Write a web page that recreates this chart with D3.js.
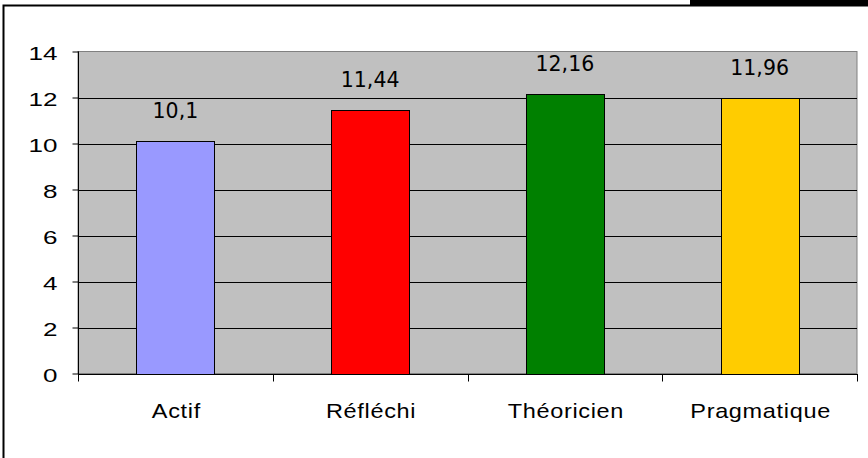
<!DOCTYPE html>
<html>
<head>
<meta charset="utf-8">
<script src="https://cdn.jsdelivr.net/npm/d3@7"></script>
<style>
  body { margin: 0; background: #fff; }
  svg { display: block; }
  .arial { font-family: "Liberation Sans", Arial, sans-serif; }
  .dejavu { font-family: "DejaVu Sans", Verdana, sans-serif; }
</style>
</head>
<body>
<div id="chart-area"></div>
<script>
// data
var categories = ["Actif", "Réfléchi", "Théoricien", "Pragmatique"];
var values = [10.1, 11.44, 12.16, 11.96];
var valueLabels = ["10,1", "11,44", "12,16", "11,96"];
var barColors = ["#9999FF", "#FF0000", "#008000", "#FFCC00"];
var yTicks = [0, 2, 4, 6, 8, 10, 12, 14];

var W = 868, H = 458;
var plot = {left: 78, right: 857, top: 51.5, bottom: 373.5};
// the original picture is stretched sideways, so its text is wider than normal
var yStretch = 1.4, xStretch = 1.12;

var svg = d3.select("#chart-area")
  .append("svg")
  .attr("width", W)
  .attr("height", H);

// outer frame (only left and top edges are visible)
svg.append("path")
  .attr("d", "M3.5," + H + " V5.5 H" + W)
  .attr("fill", "none")
  .attr("stroke", "#000")
  .attr("stroke-width", 2);
svg.append("rect")
  .attr("x", 690).attr("y", 0)
  .attr("width", W - 690).attr("height", 6)
  .attr("fill", "#000");

// scales
var x = d3.scaleBand()
  .domain(categories)
  .range([plot.left, plot.right])
  .padding(0);

var y = d3.scaleLinear()
  .domain([0, 14])
  .range([plot.bottom, plot.top]);

// plot background
svg.append("rect")
  .attr("x", plot.left)
  .attr("y", plot.top)
  .attr("width", plot.right - plot.left)
  .attr("height", plot.bottom - plot.top)
  .attr("fill", "#C0C0C0")
  .attr("stroke", "#808080")
  .attr("stroke-width", 1);

// gridlines
svg.selectAll("line.grid")
  .data(yTicks.filter(function(d){ return d > 0 && d < 14; }))
  .enter()
  .append("line")
  .attr("class", "grid")
  .attr("x1", plot.left)
  .attr("x2", plot.right)
  .attr("y1", function(d){ return Math.round(y(d)) + 0.5; })
  .attr("y2", function(d){ return Math.round(y(d)) + 0.5; })
  .attr("stroke", "#000")
  .attr("stroke-width", 1);

// bars
var bw = x.bandwidth();
svg.selectAll("rect.bar")
  .data(values)
  .enter()
  .append("rect")
  .attr("class", "bar")
  .attr("x", function(d, i){ return Math.round(x(categories[i]) + bw * 0.3) + 0.5; })
  .attr("y", function(d){ return Math.round(y(d)) + 0.5; })
  .attr("width", Math.round(bw * 0.4))
  .attr("height", function(d){ return Math.round(y(0)) - Math.round(y(d)); })
  .attr("fill", function(d, i){ return barColors[i]; })
  .attr("stroke", "#000")
  .attr("stroke-width", 1);

// value labels
svg.selectAll("text.val")
  .data(values)
  .enter()
  .append("text")
  .attr("class", "val dejavu")
  .attr("x", function(d, i){ return x(categories[i]) + bw / 2; })
  .attr("y", function(d){ return y(d) - 23; })
  .attr("text-anchor", "middle")
  .style("font-size", "20.5px")
  .attr("fill", "#000")
  .text(function(d, i){ return valueLabels[i]; });

// y axis
var yAxis = d3.axisLeft(y)
  .tickValues(yTicks)
  .tickSize(6)
  .tickPadding(14)
  .tickFormat(d3.format("d"));

var gy = svg.append("g")
  .attr("class", "y-axis")
  .attr("transform", "translate(" + (plot.left + 0.5) + ",0)")
  .call(yAxis);
gy.attr("font-family", null).attr("font-size", null);
gy.select(".domain").attr("stroke", "#000").attr("d", "M0," + plot.top + "V" + (plot.bottom + 1));
gy.selectAll(".tick line").attr("stroke", "#000");
gy.selectAll(".tick text")
  .attr("class", "arial")
  .style("font-size", "18.6px")
  .attr("fill", "#000")
  .attr("x", -21 / yStretch)
  .attr("dy", "0.42em")
  .attr("transform", "scale(" + yStretch + ",1)");

// x axis line and category boundary ticks
var y0 = Math.round(y(0)) + 0.5;
svg.append("line")
  .attr("x1", plot.left).attr("x2", plot.right + 1)
  .attr("y1", y0).attr("y2", y0)
  .attr("stroke", "#000");
var bounds = categories.map(function(c){ return x(c); }).concat([plot.right]);
svg.selectAll("line.xtick")
  .data(bounds)
  .enter()
  .append("line")
  .attr("class", "xtick")
  .attr("x1", function(d){ return Math.round(d) + 0.5; })
  .attr("x2", function(d){ return Math.round(d) + 0.5; })
  .attr("y1", y0)
  .attr("y2", y0 + 7)
  .attr("stroke", "#000");

// category labels
svg.selectAll("text.cat")
  .data(categories)
  .enter()
  .append("text")
  .attr("class", "cat arial")
  .attr("x", function(d){ return (x(d) + bw / 2 + 1) / xStretch; })
  .attr("y", 418.3)
  .attr("transform", "scale(" + xStretch + ",1)")
  .attr("text-anchor", "middle")
  .style("font-size", "21px")
  .style("letter-spacing", "0.6px")
  .attr("fill", "#000")
  .text(function(d){ return d; });
</script>
</body>
</html>
